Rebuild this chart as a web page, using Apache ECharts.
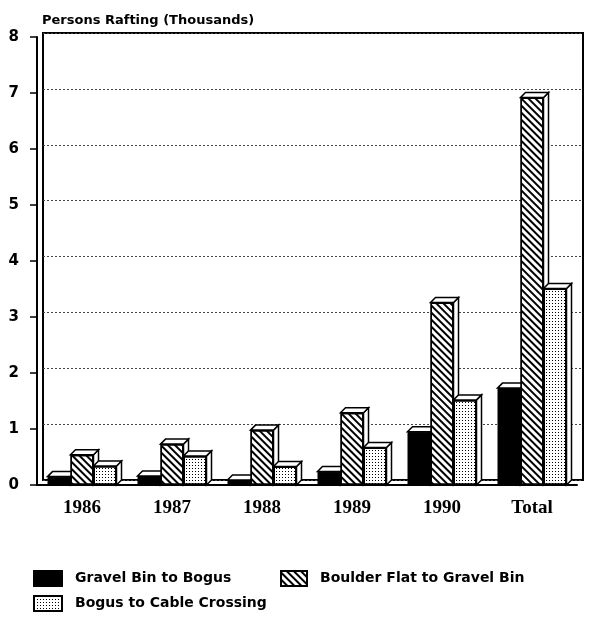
<!DOCTYPE html>
<html>
<head>
<meta charset="utf-8">
<script src="https://cdn.jsdelivr.net/npm/echarts@6/dist/echarts.min.js"></script>
<style>
  html, body { margin: 0; padding: 0; background: #fff; }
  #chart { width: 596px; height: 621px; }
</style>
</head>
<body>
<div id="chart"></div>
<script>
  // data (thousands of persons)
  const categories = ['1986', '1987', '1988', '1989', '1990', 'Total'];
  const gravelBinToBogus = [0.15, 0.16, 0.09, 0.24, 0.95, 1.73];
  const boulderFlatToGravelBin = [0.54, 0.73, 0.98, 1.29, 3.26, 6.92];
  const bogusToCableCrossing = [0.34, 0.52, 0.33, 0.67, 1.52, 3.51];
  const seriesNames = ['Gravel Bin to Bogus', 'Boulder Flat to Gravel Bin', 'Bogus to Cable Crossing'];

  const BAR_W = 23;
  const DEPTH = 5;

  const chart = echarts.init(document.getElementById('chart'));

  const hatch = {
    symbol: 'rect', symbolSize: 1, color: '#000',
    dashArrayX: [1, 0], dashArrayY: [2, 3], rotation: Math.PI / 4
  };
  const dots = {
    symbol: 'rect', symbolSize: 1, color: '#000',
    dashArrayX: [1, 2], dashArrayY: [1, 2], rotation: 0
  };

  // top and right side faces of each bar, drawn behind the fronts
  function depthFaces(k) {
    return function (params, api) {
      const c = api.value(0);
      const v = api.value(1);
      const base = api.coord([c, 0]);
      const top = api.coord([c, v]);
      const x0 = base[0] + (k - 1) * BAR_W - BAR_W / 2;
      const x1 = x0 + BAR_W;
      const yT = top[1];
      const y0 = base[1];
      const st = { fill: '#fff', stroke: '#000', lineWidth: 1.5 };
      return {
        type: 'group',
        children: [
          { type: 'polygon', shape: { points: [[x1, y0], [x1 + DEPTH, y0 - DEPTH], [x1 + DEPTH, yT - DEPTH], [x1, yT]] }, style: st },
          { type: 'polygon', shape: { points: [[x0, yT], [x0 + DEPTH, yT - DEPTH], [x1 + DEPTH, yT - DEPTH], [x1, yT]] }, style: st }
        ]
      };
    };
  }

  const values = [gravelBinToBogus, boulderFlatToGravelBin, bogusToCableCrossing];
  const fills = [
    { color: '#000', borderColor: '#000', borderWidth: 1 },
    { color: '#fff', borderColor: '#000', borderWidth: 1.5, decal: hatch },
    { color: '#fff', borderColor: '#000', borderWidth: 1.5, decal: dots }
  ];

  const series = [];
  for (let k = 0; k < 3; k++) {
    series.push({
      type: 'custom',
      name: seriesNames[k] + ' depth',
      xAxisIndex: 0, yAxisIndex: 0,
      z: 3 + k,
      silent: true,
      renderItem: depthFaces(k),
      data: values[k].map((v, i) => [i, v])
    });
  }
  for (let k = 0; k < 3; k++) {
    series.push({
      type: 'bar',
      name: seriesNames[k],
      xAxisIndex: 0, yAxisIndex: 0,
      z: 10,
      barWidth: BAR_W,
      barGap: '0%',
      itemStyle: fills[k],
      data: values[k]
    });
  }

  const labelFont = 'DejaVu Sans';
  const legendText = { fontFamily: labelFont, fontWeight: 'bold', fontSize: 14, color: '#000', padding: [0, 0, 0, 8] };
  // one legend per entry so each sits where the original has it
  const legendSpots = [[33, 570], [280, 570], [33, 595]];

  const option = {
    animation: false,
    backgroundColor: '#fff',
    title: {
      text: 'Persons Rafting (Thousands)',
      left: 37, top: 9,
      textStyle: { fontFamily: labelFont, fontWeight: 'bold', fontSize: 13, color: '#000' }
    },
    legend: seriesNames.map((name, i) => ({
      data: [name],
      left: legendSpots[i][0], top: legendSpots[i][1],
      padding: 0,
      icon: 'rect',
      itemWidth: i === 1 ? 26 : 28, itemHeight: 15,
      textStyle: legendText
    })),
    grid: [
      // front plane: axes, bars
      { left: 37, right: 19, top: 37, bottom: 136 },
      // back wall: frame and dotted gridlines
      { left: 43, right: 13, top: 33, bottom: 141, show: true, borderColor: '#000', borderWidth: 2, z: 0 }
    ],
    xAxis: [
      {
        gridIndex: 0, type: 'category', data: categories,
        axisLine: { lineStyle: { color: '#000', width: 2 } },
        axisTick: { alignWithLabel: true, length: 8, lineStyle: { color: '#000', width: 1.5 } },
        axisLabel: { margin: 14, fontFamily: 'Liberation Serif', fontWeight: 'bold', fontSize: 19, color: '#000' }
      },
      { gridIndex: 1, type: 'category', data: categories, show: false }
    ],
    yAxis: [
      {
        gridIndex: 0, type: 'value', min: 0, max: 8, interval: 1,
        axisLine: { show: true, lineStyle: { color: '#000', width: 2 } },
        axisTick: { show: true, length: 7, lineStyle: { color: '#000', width: 1.5 } },
        axisLabel: { margin: 18, fontFamily: labelFont, fontWeight: 'bold', fontSize: 15, color: '#000' },
        splitLine: { show: false }
      },
      {
        gridIndex: 1, type: 'value', min: 0, max: 8, interval: 1,
        axisLine: { show: false }, axisTick: { show: false }, axisLabel: { show: false },
        splitLine: { show: true, lineStyle: { color: '#444', width: 1, type: [2, 2] } }
      }
    ],
    series: series
  };

  chart.setOption(option);
  window.addEventListener('resize', function () {
    chart.resize();
  });
</script>
</body>
</html>
